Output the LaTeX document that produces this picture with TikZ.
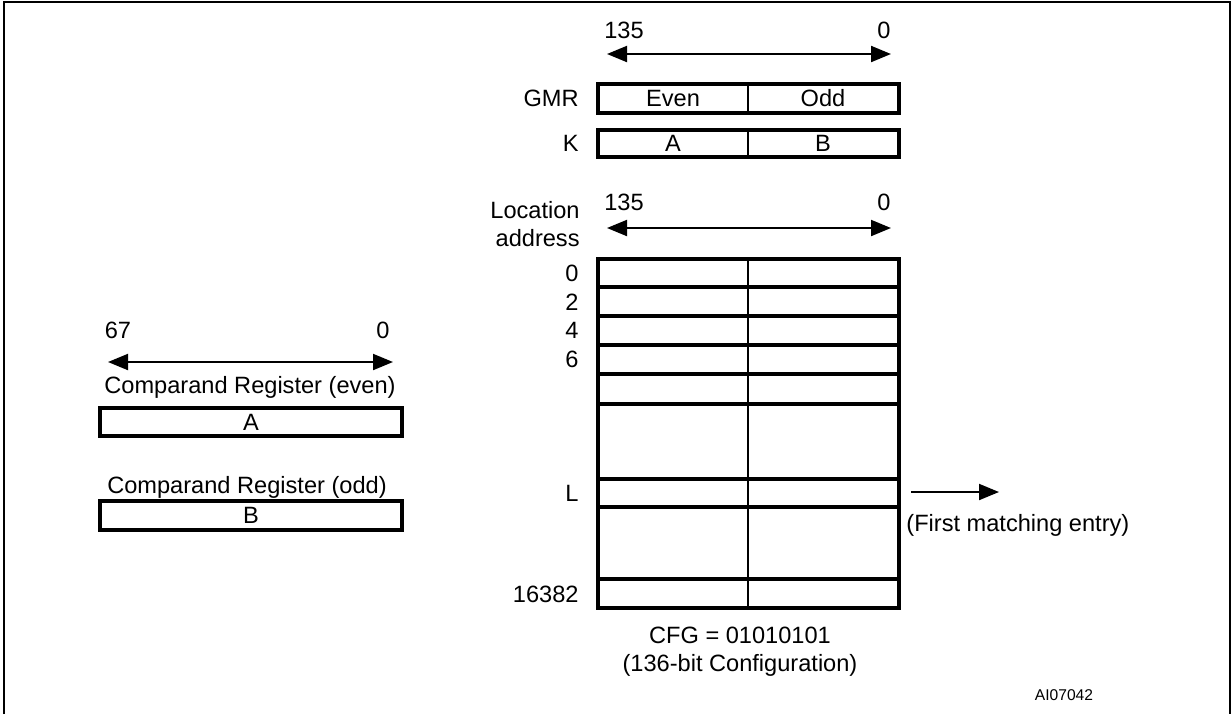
\documentclass[tikz,border=0pt]{standalone}
\usepackage{fontspec}
\setmainfont{Liberation Sans}
\usetikzlibrary{arrows.meta}

\tikzset{
  regbox/.style={line width=1.6pt},
  divline/.style={line width=1.1pt},
  dimarrow/.style={line width=1pt, {Triangle[length=10pt,width=8pt]}-{Triangle[length=10pt,width=8pt]}},
  outarrow/.style={line width=1pt, -{Triangle[length=10pt,width=8pt]}},
  lbl/.style={inner sep=0pt, font=\fontsize{11.8}{14}\selectfont},
}

\begin{document}
\begin{tikzpicture}[x=0.5pt,y=-0.5pt]
\useasboundingbox (0,0) rectangle (1231,714);
\draw[line width=1pt] (4,714) -- (4,2) -- (1229.5,2) -- (1229.5,714);

% bit range over GMR
\node[lbl] (gmrhi) at (624,30) {135};
\node[lbl] (gmrlo) at (884,30) {0};
\coordinate (gmrl) at (607,54);
\coordinate (gmrr) at (891,54);
\draw[dimarrow] (gmrl) -- (gmrr);

% GMR and K
\draw[regbox] (598,84) rectangle (899,113);
\draw[divline] (748,84) -- (748,113);
\node[lbl, anchor=east] (gmr) at (579,98) {GMR};
\node[lbl] (even) at (673,98) {Even};
\node[lbl] (odd) at (823,98) {Odd};

\draw[regbox] (598,130) rectangle (899,157);
\draw[divline] (748,130) -- (748,157);
\node[lbl, anchor=east] (k) at (579,143) {K};
\node[lbl] (ka) at (673,143) {A};
\node[lbl] (kb) at (823,143) {B};

% location address
\node[lbl, anchor=east, align=right] (loc) at (580,224) {Location\\address};
\node[lbl] (lochi) at (624,202) {135};
\node[lbl] (loclo) at (884,202) {0};
\coordinate (locl) at (607,228);
\coordinate (locr) at (891,228);
\draw[dimarrow] (locl) -- (locr);

% memory array
\draw[regbox] (598,259) rectangle (899,608);
\foreach \y in {287,316,345,374,404,479,507,579}
  \draw[regbox] (598,\y) -- (899,\y);
\draw[divline] (748,259) -- (748,608);

\node[lbl, anchor=east] (a0) at (579,273) {0};
\node[lbl, anchor=east] (a2) at (579,302) {2};
\node[lbl, anchor=east] (a4) at (579,330) {4};
\node[lbl, anchor=east] (a6) at (579,359) {6};
\node[lbl, anchor=east] (al) at (579,493) {L};
\node[lbl, anchor=east] (alast) at (579,594) {16382};

\node[lbl, align=center] (cfg) at (740,652) {CFG = 01010101\\(136-bit Configuration)};

% first match
\coordinate (matchl) at (911,492);
\coordinate (matchr) at (999,492);
\draw[outarrow] (matchl) -- (matchr);
\node[lbl, anchor=west] (match) at (906,525) {(First matching entry)};

% comparand registers
\node[lbl] (cmphi) at (118,330) {67};
\node[lbl] (cmplo) at (383,330) {0};
\coordinate (cmpl) at (108,362);
\coordinate (cmpr) at (393,362);
\draw[dimarrow] (cmpl) -- (cmpr);

\node[lbl] (evenreg) at (250,387) {Comparand Register (even)};
\draw[regbox] (100,408) rectangle (402,436);
\node[lbl] (rega) at (251,422) {A};

\node[lbl] (oddreg) at (247,487) {Comparand Register (odd)};
\draw[regbox] (100,501) rectangle (402,530);
\node[lbl] (regb) at (251,515) {B};

\node[inner sep=0pt, font=\fontsize{7.8}{9}\selectfont] (tag) at (1064,695) {AI07042};
\end{tikzpicture}
\end{document}
